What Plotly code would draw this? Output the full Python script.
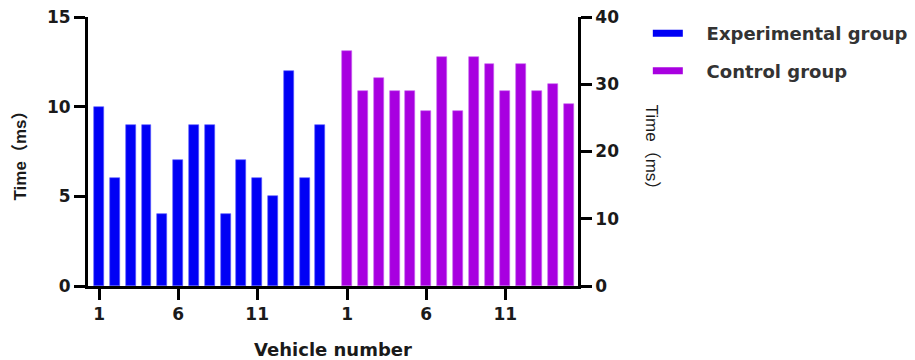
import plotly.graph_objects as go

vehicles = list(range(1, 16))
experimental = [10, 6, 9, 9, 4, 7, 9, 9, 4, 7, 6, 5, 12, 6, 9]
control = [35, 29, 31, 29, 29, 26, 34, 26, 34, 33, 29, 33, 29, 30, 27]
tick_numbers = [1, 6, 11]
series_names = ["Experimental group", "Control group"]
colors = ["#0000F5", "#A800E0"]

gap = 15.7  # offset of control group along the shared axis
x_exp = [v for v in vehicles]
x_ctl = [v + gap for v in vehicles]

font_family = "DejaVu Sans, Arial, sans-serif"
title_family = "Liberation Sans, Noto Sans CJK SC, sans-serif"

fig = go.Figure()
fig.add_trace(go.Bar(x=x_exp, y=experimental, width=0.63,
                     marker=dict(color=colors[0], line=dict(color="#5a5aff", width=0.6)),
                     showlegend=False, yaxis="y"))
fig.add_trace(go.Bar(x=x_ctl, y=control, width=0.63,
                     marker=dict(color=colors[1], line=dict(color="#c860f0", width=0.6)),
                     showlegend=False, yaxis="y2"))
for i, name in enumerate(series_names):
    fig.add_trace(go.Scatter(x=[None], y=[None], mode="lines", name="\u00a0\u00a0\u00a0" + name,
                             line=dict(color=colors[i], width=7), legendgroup=name))

tickvals = [t for t in tick_numbers] + [t + gap for t in tick_numbers]
ticktext = [str(t) for t in tick_numbers] * 2

axis_common = dict(showline=True, linecolor="black", linewidth=2.8, ticks="outside",
                   tickwidth=2.8, ticklen=11, tickcolor="black", showgrid=False, zeroline=False,
                   automargin=False,
                   tickfont=dict(family=font_family, size=17, color="#1a1a1a", weight="bold"))

fig.update_layout(
    width=915, height=360,
    margin=dict(l=88, r=337, t=17, b=74),
    plot_bgcolor="white", paper_bgcolor="white",
    bargap=0, barmode="overlay",
    xaxis=dict(range=[0.3, 31.3], tickvals=tickvals, ticktext=ticktext,
               title=dict(text="Vehicle number",
                          font=dict(family=font_family, size=18, color="#1a1a1a", weight="bold"), standoff=22),
               **axis_common),
    yaxis=dict(range=[0, 15], tickvals=[0, 5, 10, 15],
               title=dict(text="Time（ms）",
                          font=dict(family=title_family, size=17, color="#1a1a1a", weight="bold"), standoff=17),
               **axis_common),
    yaxis2=dict(range=[0, 40], tickvals=[0, 10, 20, 30, 40], overlaying="y", side="right",
                **axis_common),
    legend=dict(xref="container", yref="container", x=0.708, y=0.958, xanchor="left", yanchor="top",
                traceorder="grouped", tracegroupgap=11,
                font=dict(family=font_family, size=18, color="#333333", weight="bold"),
                bgcolor="rgba(0,0,0,0)"),
    annotations=[dict(text="Time（ms）", xref="paper", yref="paper", x=1.151, y=0.5, textangle=90,
                      xanchor="center", yanchor="middle",
                      showarrow=False, font=dict(family=title_family, size=17, color="#1a1a1a"))],
)

fig.write_html("out.html", config={"displayModeBar": False},
               post_script="document.body.style.margin='0';")
